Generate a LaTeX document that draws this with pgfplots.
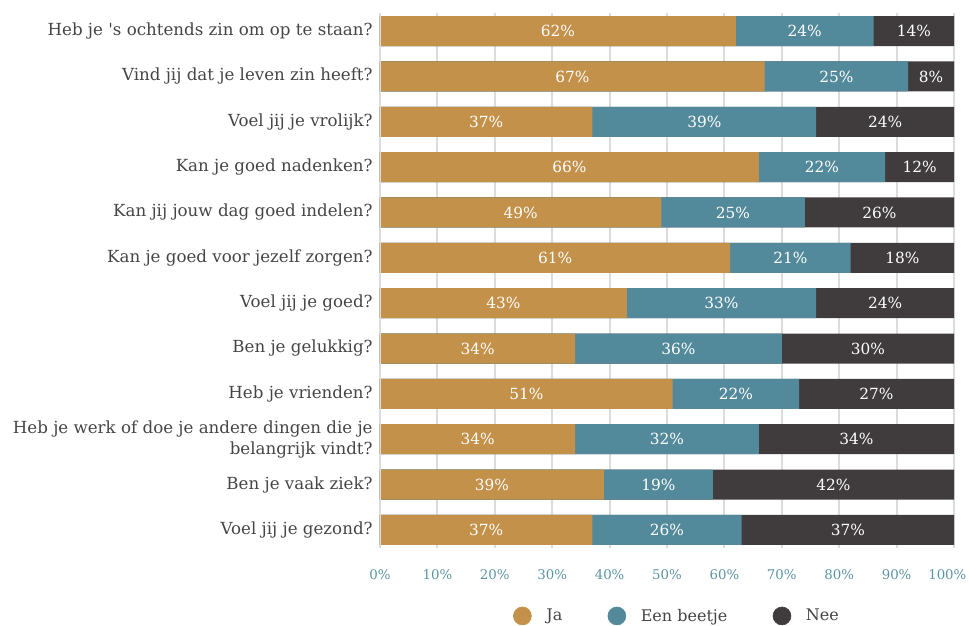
\documentclass[border=0pt]{standalone}
\usepackage{pgfplots}
\usepackage{pgfplotstable}
\usepackage{fontspec}
\pgfplotsset{compat=1.18}
\setmainfont{DejaVu Serif}[Ligatures=TeXOff]

\definecolor{ja}{HTML}{C4914A}
\definecolor{beetje}{HTML}{528A9B}
\definecolor{nee}{HTML}{403C3D}
\definecolor{tekst}{HTML}{454545}
\definecolor{tick}{HTML}{5B94A4}
\definecolor{raster}{HTML}{DCDCDC}

% antwoorden per vraag, in procenten
\pgfplotstableread{
idx ja be nee
0  62 24 14
1  67 25 8
2  37 39 24
3  66 22 12
4  49 25 26
5  61 21 18
6  43 33 24
7  34 36 30
8  51 22 27
9  34 32 34
10 39 19 42
11 37 26 37
}\data
\pgfplotstablecreatecol[expr={\thisrow{ja}+\thisrow{be}}]{jb}\data
\pgfplotstablecreatecol[expr={\thisrow{jb}+\thisrow{nee}}]{tot}\data
\pgfplotstablecreatecol[expr={\thisrow{ja}/2}]{cja}\data
\pgfplotstablecreatecol[expr={\thisrow{ja}+\thisrow{be}/2}]{cbe}\data
\pgfplotstablecreatecol[expr={\thisrow{jb}+\thisrow{nee}/2}]{cnee}\data

\begin{document}
\begin{tikzpicture}
\path[use as bounding box] (-285pt,-57.75pt) rectangle (441.75pt,411pt);
\begin{axis}[
    at={(0,0)}, anchor=south west,
    scale only axis,
    width=430.5pt, height=401.25pt,
    xmin=0, xmax=100,
    ymin=-0.4, ymax=11.4,
    y dir=reverse,
    axis line style={draw=none},
    major tick length=0pt,
    xmajorgrids,
    grid style={raster, line width=1.4pt},
    xtick={0,10,...,100},
    xticklabels={0\%,10\%,20\%,30\%,40\%,50\%,60\%,70\%,80\%,90\%,\hspace*{-10pt}100\%},
    xticklabel style={font=\fontsize{10}{12}\selectfont, text=tick, yshift=-13pt},
    ytick={0,...,11},
    yticklabels={
        Heb je 's ochtends zin om op te staan?,
        Vind jij dat je leven zin heeft?,
        Voel jij je vrolijk?,
        Kan je goed nadenken?,
        Kan jij jouw dag goed indelen?,
        Kan je goed voor jezelf zorgen?,
        Voel jij je goed?,
        Ben je gelukkig?,
        Heb je vrienden?,
        {Heb je werk of doe je andere dingen die je\\belangrijk vindt?},
        Ben je vaak ziek?,
        Voel jij je gezond?},
    yticklabel style={font=\fontsize{12.5}{15.5}\selectfont, text=tekst, align=right, xshift=-2pt},
    bar width=22.5pt,
    legend style={draw=none, at={(0.518,-0.127)}, anchor=center,
        legend columns=3, font=\fontsize{12}{14}\selectfont, text=tekst,
        /tikz/every odd column/.append style={column sep=9pt},
        /tikz/every even column/.append style={column sep=32pt}},
    nodes near coords style={anchor=center, text=white, font=\fontsize{11.5}{13}\selectfont},
]
% balken over elkaar: totaal, ja + een beetje, ja
\addplot[xbar, bar shift=0pt, fill=nee, draw=none, forget plot] table[x=tot, y=idx]{\data};
\addplot[xbar, bar shift=0pt, fill=beetje, draw=none, forget plot] table[x=jb, y=idx]{\data};
\addplot[xbar, bar shift=0pt, fill=ja, draw=none, forget plot] table[x=ja, y=idx]{\data};

% percentages midden in elk stuk
\addplot[draw=none, mark=none, forget plot, point meta=explicit,
    nodes near coords={\pgfmathprintnumber[assume math mode=true]{\pgfplotspointmeta}\%}]
    table[x=cja, y=idx, meta=ja]{\data};
\addplot[draw=none, mark=none, forget plot, point meta=explicit,
    nodes near coords={\pgfmathprintnumber[assume math mode=true]{\pgfplotspointmeta}\%}]
    table[x=cbe, y=idx, meta=be]{\data};
\addplot[draw=none, mark=none, forget plot, point meta=explicit,
    nodes near coords={\pgfmathprintnumber[assume math mode=true]{\pgfplotspointmeta}\%}]
    table[x=cnee, y=idx, meta=nee]{\data};

\draw[raster, line width=1.4pt] (axis cs:0,-0.4) -- (axis cs:0,11.4);

\addlegendimage{legend image code/.code={\fill[ja] (6.75pt,0pt) circle (6.75pt);}}
\addlegendentry{Ja}
\addlegendimage{legend image code/.code={\fill[beetje] (6.75pt,0pt) circle (6.75pt);}}
\addlegendentry{Een beetje}
\addlegendimage{legend image code/.code={\fill[nee] (6.75pt,0pt) circle (6.75pt);}}
\addlegendentry{Nee}
\end{axis}
\end{tikzpicture}
\end{document}
